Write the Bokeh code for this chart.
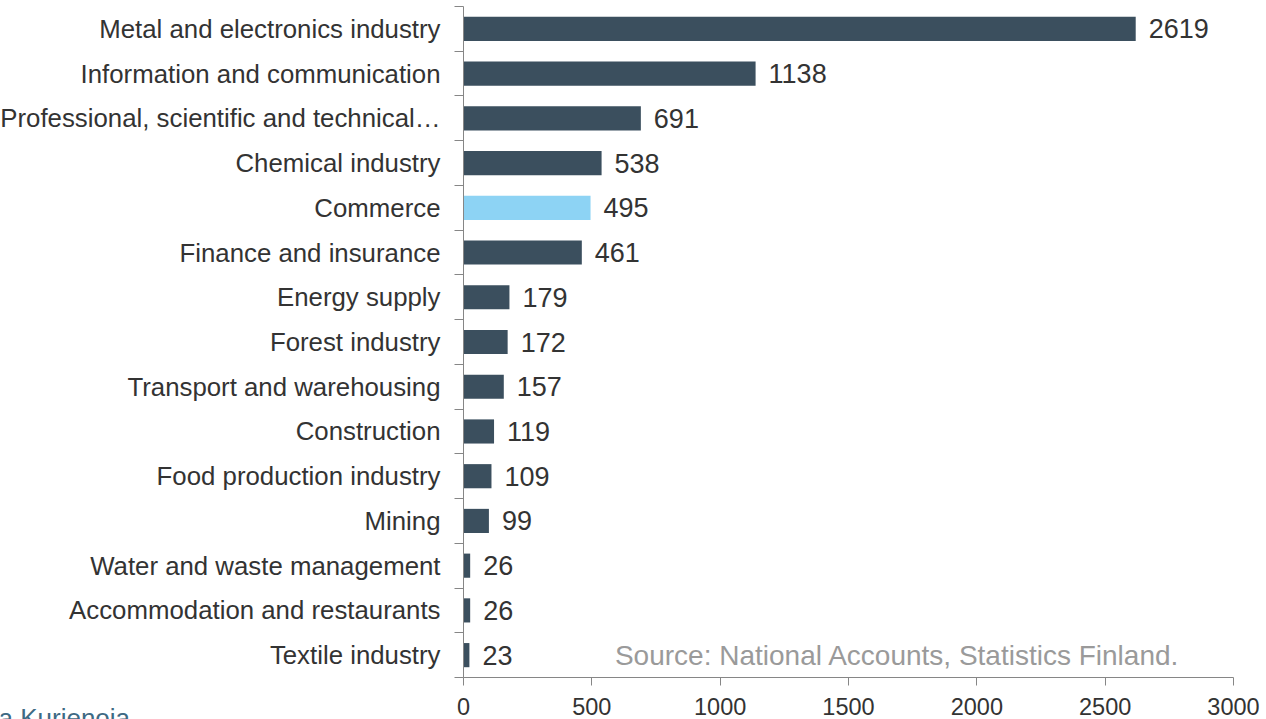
from bokeh.plotting import figure
from bokeh.models import ColumnDataSource, FixedTicker, Range1d, Label
from bokeh.embed import file_html
from bokeh.resources import INLINE
from bokeh.core.properties import value

categories = [
    "Metal and electronics industry",
    "Information and communication",
    "Professional, scientific and technical…",
    "Chemical industry",
    "Commerce",
    "Finance and insurance",
    "Energy supply",
    "Forest industry",
    "Transport and warehousing",
    "Construction",
    "Food production industry",
    "Mining",
    "Water and waste management",
    "Accommodation and restaurants",
    "Textile industry",
]
values = [2619, 1138, 691, 538, 495, 461, 179, 172, 157, 119, 109, 99, 26, 26, 23]
highlight = "Commerce"
x_ticks = [0, 500, 1000, 1500, 2000, 2500, 3000]
source_note = "Source: National Accounts, Statistics Finland."
author_note = "a Kurjenoja"

FONT = "Liberation Sans"
DARK = "#3B4F5E"
LIGHT = "#8DD3F4"
TXT = "#333333"
AX = "#868686"

W, H = 1266, 719
# plot area (axes box) in canvas pixels
PL, PR, PT, PB = 463, 1233, 6, 677
XMAX = 3000

n = len(categories)
ypos = [n - 1 - i for i in range(n)]
colors = [LIGHT if c == highlight else DARK for c in categories]
src = ColumnDataSource(dict(y=ypos, v=values, label=[str(v) for v in values], color=colors))

xs = XMAX / (PR - PL)          # data units per pixel
ys = n / (PB - PT)
x_range = Range1d(-PL * xs, XMAX + (W - PR) * xs)
y_range = Range1d(-0.5 - (H - PB) * ys, n - 0.5 + PT * ys)

p = figure(width=W, height=H, x_range=x_range, y_range=y_range,
           output_backend="svg", toolbar_location=None, min_border=0,
           min_border_left=0, min_border_right=0, min_border_top=0, min_border_bottom=0)

p.hbar(y="y", left=0, right="v", height=0.54, fill_color="color", line_color=None, source=src)
p.text(x="v", y="y", text="label", x_offset=13, text_align="left", text_baseline="middle",
       text_font=value(FONT), text_font_size="27px", text_color=TXT, source=src)

p.xgrid.grid_line_color = None
p.ygrid.grid_line_color = None
p.outline_line_color = None
p.background_fill_color = "white"
p.border_fill_color = "white"

ya = p.yaxis[0]
ya.fixed_location = 0
ya.bounds = (-0.5, n - 0.5)
ya.ticker = FixedTicker(ticks=ypos, minor_ticks=[k - 0.5 for k in range(n + 1)])
ya.major_label_overrides = {y: c for y, c in zip(ypos, categories)}
ya.major_tick_out = 0
ya.major_tick_in = 0
ya.minor_tick_out = 9
ya.minor_tick_in = 0
ya.major_label_standoff = 14
ya.axis_line_color = AX
ya.minor_tick_line_color = AX
ya.major_label_text_font = FONT
ya.major_label_text_font_size = "25.8px"
ya.major_label_text_color = TXT

xa = p.xaxis[0]
xa.fixed_location = -0.5
xa.bounds = (0, XMAX)
xa.ticker = FixedTicker(ticks=x_ticks, minor_ticks=[])
xa.major_tick_out = 8
xa.major_tick_in = 0
xa.minor_tick_out = 0
xa.minor_tick_in = 0
xa.major_label_standoff = 12
xa.axis_line_color = AX
xa.major_tick_line_color = AX
xa.major_label_text_font = FONT
xa.major_label_text_font_size = "23.5px"
xa.major_label_text_color = TXT

p.add_layout(Label(x=590, y=0, text=source_note, text_baseline="middle", text_align="left",
                   text_font=FONT, text_font_size="28px", text_color="#9A9A9A"))
p.add_layout(Label(x=-PL * xs - 2 * xs, y=-0.5 - 25 * ys, text=author_note,
                   text_baseline="top", text_align="left",
                   text_font=FONT, text_font_size="26px", text_color="#3E6A84"))

open("out.html", "w").write(file_html(p, INLINE))
